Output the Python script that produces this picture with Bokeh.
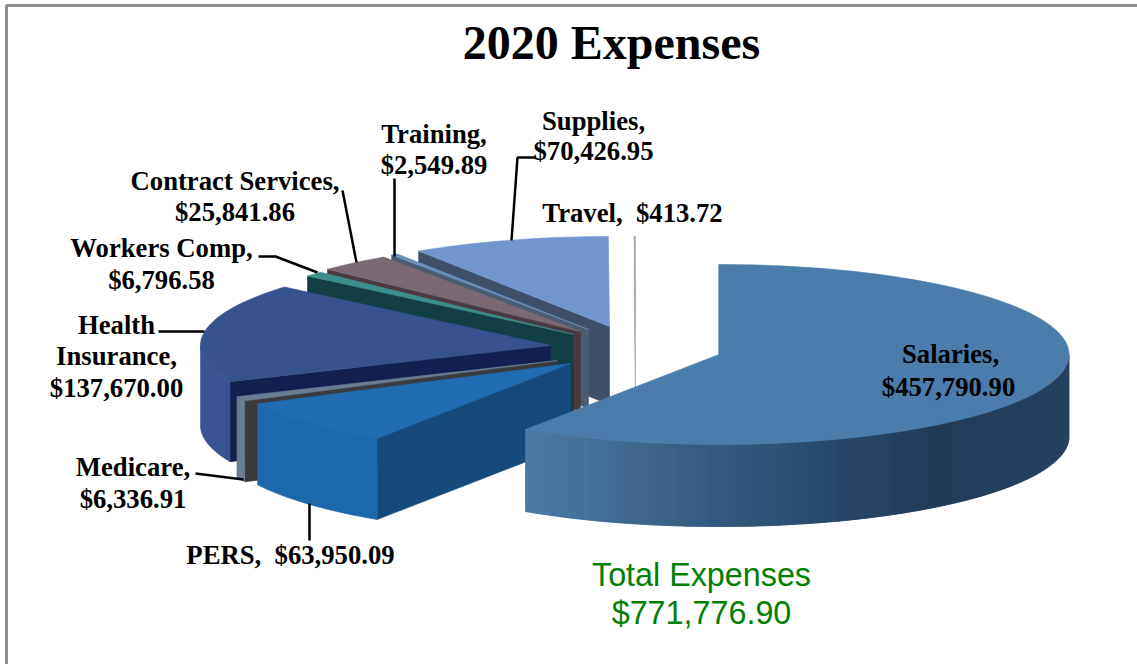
import math
from bokeh.plotting import figure
from bokeh.models import Range1d, ColumnDataSource
from bokeh.core.properties import value
from bokeh.embed import file_html
from bokeh.resources import INLINE

# ---- data ----
categories = ["Salaries", "PERS", "Medicare", "Health Insurance", "Workers Comp",
              "Contract Services", "Training", "Supplies", "Travel"]
expenses = [457790.90, 63950.09, 6336.91, 137670.00, 6796.58,
            25841.86, 2549.89, 70426.95, 413.72]
title_text = "2020 Expenses"
total_label = ["Total Expenses", "$771,776.90"]

# ---- layout of the exploded 3-D pie (reference pixel space) ----
RX, RY = 350, 90
hubs = [(718.5, 354), (570, 363), (557, 360), (550, 345), (573, 334),
        (580, 331), (588, 329), (609, 326), (635, 326)]
depths = [82, 81, 81, 80, 80, 80, 79, 78, 78]
top_colors = ["#4a7dab", "#1f6cb2", "#6a7c91", "#38528f", "#3a8f8a",
              "#7a6873", "#6a90bd", "#7295cd", "#a6a6a6"]
wall_colors = ["#4a7dab", "#154a7c", "#3b3b3d", "#13204f", "#123f44",
               "#4a3a40", "#4b5b70", "#3f4f68", "#a6a6a6"]
rim_colors = [None, "#1c68ad", "#6a7c91", "#3a5394", "#123f44",
              "#4a3a40", "#4b5b70", "#3f4f68", "#a6a6a6"]
salary_rim_stops = [(0.0, "#4b7ba6"), (0.22, "#3d658b"), (0.5, "#2b4d70"),
                    (0.75, "#223c58"), (1.0, "#27425f")]
LABEL_PX = 26.7
TOTAL_PX = 32.3
BASE_SHIFT = 0.37  # em, Bokeh's alphabetic baseline sits this far below the anchor


def hexrgb(c):
    return tuple(int(c[i:i + 2], 16) for i in (1, 3, 5))


def ramp(t):
    for (t0, c0), (t1, c1) in zip(salary_rim_stops, salary_rim_stops[1:]):
        if t <= t1:
            f = (t - t0) / (t1 - t0)
            a, b = hexrgb(c0), hexrgb(c1)
            return "#%02x%02x%02x" % tuple(round(a[i] + (b[i] - a[i]) * f) for i in range(3))
    return salary_rim_stops[-1][1]


total = sum(expenses)
edges = [0.0]
for v in expenses:
    edges.append(edges[-1] + 360.0 * v / total)


def pt(hub, deg):
    r = math.radians(deg)
    return hub[0] + RX * math.sin(r), hub[1] - RY * math.cos(r)


xs, ys, cols = [], [], []


def add(px, py, c):
    xs.append(px)
    ys.append(py)
    cols.append(c)


for i in reversed(range(len(expenses))):
    hub, d = hubs[i], depths[i]
    a0, a1 = edges[i], edges[i + 1]
    # radial wall on the leading edge
    s = pt(hub, a0)
    add([hub[0], s[0], s[0], hub[0]], [hub[1], s[1], s[1] + d, hub[1] + d], wall_colors[i])
    # outer rim, front half only
    lo, hi = max(a0, 90.0), min(a1, 270.0)
    if hi > lo:
        n = max(2, int((hi - lo) * 0.6))
        steps = [lo + (hi - lo) * k / n for k in range(n + 1)]
        if rim_colors[i] is None:
            xmin, xmax = pt(hub, hi)[0], pt(hub, lo)[0]
            for k in range(n):
                # every band runs on under the next one, so no seam shows
                arc = [pt(hub, u) for u in steps[k:k + 3]]
                mid = pt(hub, 0.5 * (steps[k] + steps[k + 1]))
                add([t[0] for t in arc] + [t[0] for t in reversed(arc)],
                    [t[1] for t in arc] + [t[1] + d for t in reversed(arc)],
                    ramp((mid[0] - xmin) / (xmax - xmin)))
        else:
            top = [pt(hub, u) for u in steps]
            add([t[0] for t in top] + [t[0] for t in reversed(top)],
                [t[1] for t in top] + [t[1] + d for t in reversed(top)], rim_colors[i])
    # top face
    n = max(2, int((a1 - a0) * 0.6))
    arc = [pt(hub, a0 + (a1 - a0) * k / n) for k in range(n + 1)]
    add([hub[0]] + [t[0] for t in arc], [hub[1]] + [t[1] for t in arc], top_colors[i])

p = figure(width=1137, height=664, output_backend="svg", toolbar_location=None,
           x_range=Range1d(0, 1137), y_range=Range1d(664, 0),
           min_border=0, outline_line_color=None, background_fill_color="white")
p.axis.visible = False
p.grid.visible = False

# chart frame
p.line([6, 6, 1137], [664, 5, 5], line_color="#8f8f8f", line_width=3)

src = ColumnDataSource(dict(xs=xs, ys=ys, c=cols))
p.patches("xs", "ys", source=src, fill_color="c", line_color="c", line_width=0.6)

# leader lines
leaders = [([535, 517, 511], [157, 157, 240]),
           ([394, 394], [178, 256]),
           ([342, 356], [190, 262]),
           ([258, 275, 317], [256, 256, 272]),
           ([158, 204], [331, 331]),
           ([195, 243], [473, 479]),
           ([309, 309], [503, 540])]
for lx, ly in leaders:
    p.line(lx, ly, line_color="black", line_width=2.5)


def money(v):
    return "${:,.2f}".format(v)


v = dict(zip(categories, expenses))
labels = [
    ("Supplies,", 593, 130), (money(v["Supplies"]), 593, 160),
    ("Training,", 433.5, 143), (money(v["Training"]), 433.5, 174),
    ("Travel,\u00a0\u00a0" + money(v["Travel"]), 632, 222),
    ("Contract Services,", 234.5, 190), (money(v["Contract Services"]), 234.5, 221),
    ("Workers Comp,", 161, 257), (money(v["Workers Comp"]), 161, 289),
    ("Health", 116, 334), ("Insurance,", 116, 365), (money(v["Health Insurance"]), 116, 397),
    ("Medicare,", 132.5, 476), (money(v["Medicare"]), 132.5, 508),
    ("PERS,\u00a0\u00a0" + money(v["PERS"]), 290, 564),
    ("Salaries,", 950, 363), (money(v["Salaries"]), 948, 396),
]
p.text([l[1] for l in labels], [l[2] - BASE_SHIFT * LABEL_PX for l in labels],
       text=[l[0] for l in labels],
       text_font=value("Liberation Serif"), text_font_style="bold",
       text_font_size=f"{LABEL_PX}px",
       text_color="black", text_align="center", text_baseline="alphabetic")
p.text([611], [60 - BASE_SHIFT * 48], text=[title_text], text_font=value("Liberation Serif"),
       text_font_style="bold", text_font_size="48px", text_color="black",
       text_align="center", text_baseline="alphabetic")
p.text([701, 701], [586 - BASE_SHIFT * TOTAL_PX, 624 - BASE_SHIFT * TOTAL_PX], text=total_label,
       text_font=value("Liberation Sans"),
       text_font_size=f"{TOTAL_PX}px", text_color="#008000",
       text_align="center", text_baseline="alphabetic")

open("out.html", "w").write(file_html(p, INLINE))
